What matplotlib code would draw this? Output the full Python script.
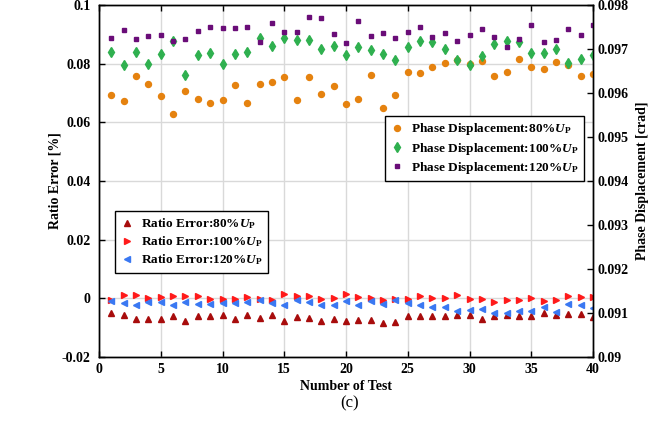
import matplotlib
matplotlib.use("Agg")
import matplotlib.pyplot as plt

plt.rcParams['font.family'] = ['Liberation Serif', 'DejaVu Serif']
plt.rcParams['font.weight'] = 'bold'
plt.rcParams['mathtext.fontset'] = 'custom'
plt.rcParams['mathtext.rm'] = 'Liberation Serif:bold'
plt.rcParams['mathtext.it'] = 'Liberation Serif:italic:bold'
plt.rcParams['mathtext.bf'] = 'Liberation Serif:bold'

tests = list(range(1, 41))

ratio_80 = [-0.0049, -0.0056, -0.0070, -0.0070, -0.0069, -0.0060, -0.0076, -0.0061, -0.0061, -0.0058,
            -0.0070, -0.0057, -0.0068, -0.0058, -0.0076, -0.0064, -0.0066, -0.0076, -0.0072, -0.0076,
            -0.0073, -0.0073, -0.0083, -0.0080, -0.0061, -0.0059, -0.0059, -0.0060, -0.0057, -0.0057,
            -0.0069, -0.0060, -0.0058, -0.0061, -0.0060, -0.0051, -0.0057, -0.0055, -0.0055, -0.0065]
ratio_100 = [-0.0005, 0.0012, 0.0012, 0.0001, 0.0005, 0.0009, 0.0008, 0.0008, -0.0001, -0.0001,
             -0.0003, 0.0003, -0.0003, -0.0006, 0.0015, 0.0008, 0.0007, -0.0001, 0.0000, 0.0016,
             0.0003, 0.0001, -0.0005, -0.0001, -0.0003, 0.0008, 0.0002, 0.0000, 0.0011, -0.0002,
             -0.0003, -0.0014, -0.0007, -0.0007, 0.0000, -0.0008, -0.0006, 0.0007, 0.0005, 0.0004]
ratio_120 = [-0.0009, -0.0015, -0.0023, -0.0014, -0.0013, -0.0024, -0.0014, -0.0018, -0.0021, -0.0016,
             -0.0016, -0.0013, -0.0005, -0.0015, -0.0022, -0.0007, -0.0013, -0.0022, -0.0023, -0.0009,
             -0.0022, -0.0008, -0.0018, -0.0007, -0.0016, -0.0024, -0.0030, -0.0030, -0.0044, -0.0039,
             -0.0036, -0.0051, -0.0050, -0.0044, -0.0043, -0.0030, -0.0048, -0.0019, -0.0023, -0.0032]

phase_80 = [0.09595, 0.09582, 0.09638, 0.09621, 0.09593, 0.09552, 0.09605, 0.09586, 0.09577, 0.09584,
            0.09618, 0.09577, 0.09621, 0.09626, 0.09636, 0.09585, 0.09636, 0.09598, 0.09617, 0.09576,
            0.09587, 0.09641, 0.09565, 0.09596, 0.09647, 0.09645, 0.09659, 0.09669, 0.09675, 0.09667,
            0.09673, 0.09639, 0.09648, 0.09677, 0.09659, 0.09655, 0.09670, 0.09663, 0.09638, 0.09643]
phase_100 = [0.09694, 0.09664, 0.09693, 0.09665, 0.09688, 0.09718, 0.09640, 0.09686, 0.09690, 0.09667,
             0.09688, 0.09693, 0.09726, 0.09706, 0.09726, 0.09720, 0.09720, 0.09699, 0.09706, 0.09686,
             0.09705, 0.09697, 0.09689, 0.09676, 0.09705, 0.09718, 0.09717, 0.09701, 0.09676, 0.09664,
             0.09683, 0.09711, 0.09718, 0.09717, 0.09690, 0.09690, 0.09699, 0.09668, 0.09677, 0.09686]
phase_120 = [0.09724, 0.09744, 0.09723, 0.09730, 0.09732, 0.09718, 0.09722, 0.09740, 0.09751, 0.09747,
             0.09747, 0.09751, 0.09717, 0.09758, 0.09739, 0.09739, 0.09773, 0.09770, 0.09734, 0.09713,
             0.09764, 0.09730, 0.09736, 0.09726, 0.09739, 0.09751, 0.09727, 0.09736, 0.09718, 0.09731,
             0.09745, 0.09728, 0.09705, 0.09723, 0.09754, 0.09716, 0.09720, 0.09746, 0.09731, 0.09754]

x_ticks = [0, 5, 10, 15, 20, 25, 30, 35, 40]
x_tick_labels = ['0', '5', '10', '15', '20', '25', '30', '35', '40']
left_ticks = [-0.02, 0, 0.02, 0.04, 0.06, 0.08, 0.1]
left_tick_labels = ['-0.02', '0', '0.02', '0.04', '0.06', '0.08', '0.1']
right_ticks = [0.090, 0.091, 0.092, 0.093, 0.094, 0.095, 0.096, 0.097, 0.098]
right_tick_labels = ['0.09', '0.091', '0.092', '0.093', '0.094', '0.095', '0.096', '0.097', '0.098']

ratio_labels = [r'Ratio Error:80%$U_\mathbf{P}$', r'Ratio Error:100%$U_\mathbf{P}$', r'Ratio Error:120%$U_\mathbf{P}$']
phase_labels = [r'Phase Displacement:80%$U_\mathbf{P}$', r'Phase Displacement:100%$U_\mathbf{P}$',
                r'Phase Displacement:120%$U_\mathbf{P}$']

W, H = 667, 426
fig = plt.figure(figsize=(W / 100, H / 100), dpi=100)
ax = fig.add_axes([99 / W, 1 - 357 / H, (593 - 99) / W, (357 - 5) / H])
ax2 = ax.twinx()

ax.set_xlim(0, 40)
ax.set_ylim(-0.02, 0.1)
ax2.set_ylim(0.090, 0.098)

ax.grid(True, color='#d9d9d9', linewidth=1.0)
ax.set_axisbelow(True)

ms = 4.2
h1, = ax.plot(tests, ratio_80, linestyle='none', marker='^', color='#a80c0c', markersize=ms)
h2, = ax.plot(tests, ratio_100, linestyle='none', marker='>', color='#ff1a1a', markersize=ms)
h3, = ax.plot(tests, ratio_120, linestyle='none', marker='<', color='#3a78f2', markersize=ms)

p1, = ax2.plot(tests, phase_80, linestyle='none', marker='o', color='#e5820f', markersize=4.3)
p2, = ax2.plot(tests, phase_100, linestyle='none', marker='d', color='#2fb04f', markersize=5.0)
p3, = ax2.plot(tests, phase_120, linestyle='none', marker='s', color='#6a0d78', markersize=3.4)

ax.set_xticks(x_ticks)
ax.set_xticklabels(x_tick_labels)
ax.set_yticks(left_ticks)
ax.set_yticklabels(left_tick_labels)
ax2.set_yticks(right_ticks)
ax2.set_yticklabels(right_tick_labels)

fs = 10
ax.tick_params(axis='x', direction='in', length=4, width=1, labelsize=fs, top=True, pad=4)
ax.tick_params(axis='y', direction='in', length=4, width=1, labelsize=fs, right=False, pad=6)
ax2.tick_params(axis='y', direction='in', length=4, width=1, labelsize=fs, pad=3)
for a in (ax, ax2):
    for s in a.spines.values():
        s.set_linewidth(1.0)
        s.set_color('black')

ax.set_xlabel('Number of Test', fontsize=fs, fontweight='bold')
ax.xaxis.set_label_coords(0.5, -(387 - 357) / 352)
ax.set_ylabel('Ratio Error [%]', fontsize=fs, fontweight='bold')
ax.yaxis.set_label_coords((55 - 99) / 494, 0.5)
ax2.set_ylabel('Phase Displacement [crad]', fontsize=fs, fontweight='bold')
ax2.yaxis.set_label_coords((642 - 99) / 494, 0.5)
ax.xaxis.label.set_va('center')
ax.yaxis.label.set_va('center')
ax2.yaxis.label.set_va('center')

fig.text(350 / W, 1 - 403 / H, '(c)', ha='center', va='center', fontsize=12, fontweight='normal')

lfs = 9.5
leg1 = ax.legend([h1, h2, h3], ratio_labels, loc='upper left',
                 bbox_to_anchor=(115 / W, 1 - 211 / H), bbox_transform=fig.transFigure,
                 frameon=True, fancybox=False, edgecolor='black', framealpha=1,
                 borderaxespad=0, handlelength=1.0, handletextpad=0.6, labelspacing=0.25,
                 borderpad=0.4, prop={'weight': 'bold', 'size': lfs})
leg1.get_frame().set_linewidth(1.0)

leg2 = ax2.legend([p1, p2, p3], phase_labels, loc='upper left',
                  bbox_to_anchor=(385 / W, 1 - 116 / H), bbox_transform=fig.transFigure,
                  frameon=True, fancybox=False, edgecolor='black', framealpha=1,
                  borderaxespad=0, handlelength=1.0, handletextpad=0.6, labelspacing=0.25,
                  borderpad=0.4, prop={'weight': 'bold', 'size': lfs})
leg2.get_frame().set_linewidth(1.0)

fig.savefig('out.png', dpi=100)
